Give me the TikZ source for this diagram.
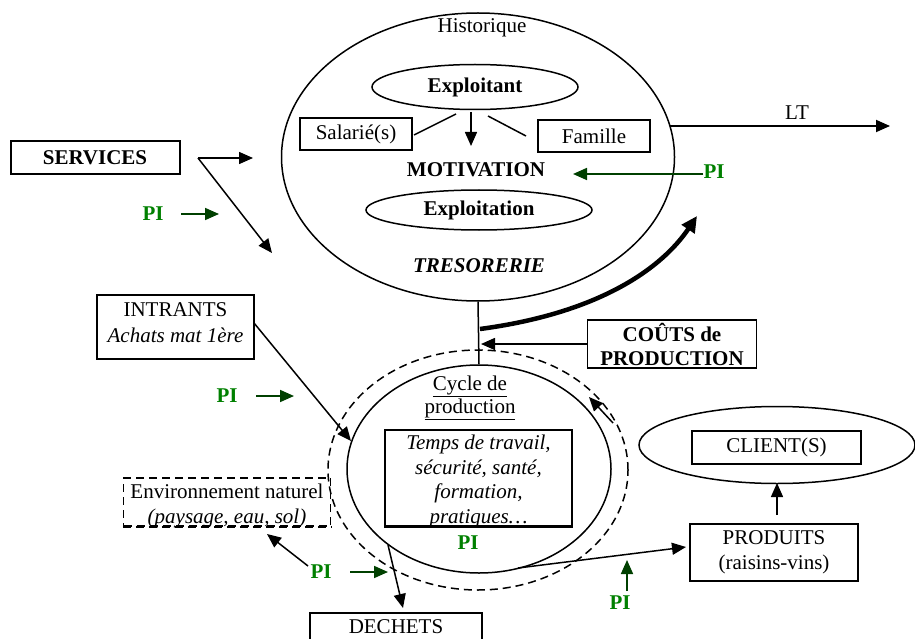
\documentclass[tikz,border=0pt]{standalone}
\usepackage{fontspec}
\setmainfont{Liberation Serif}
\usetikzlibrary{shapes.geometric,arrows.meta}
\definecolor{pigreen}{RGB}{0,128,0}
\definecolor{argreen}{RGB}{0,64,0}
\begin{document}
\begin{tikzpicture}[x=1pt,y=-1pt,
  every node/.style={font=\fontsize{21}{24.5}\selectfont, inner sep=0pt},
  ell/.style={draw, ellipse, line width=1.5pt, inner sep=0pt},
  box/.style={draw, rectangle, line width=1.5pt, inner sep=0pt},
  con/.style={line width=1.5pt, -{Triangle[length=14pt,width=12pt]}},
  plain/.style={line width=1.5pt},
  pilabel/.style={text=pigreen, font=\fontsize{21}{24.5}\selectfont\bfseries},
  piarrow/.style={draw=argreen, line width=1.7pt, -{Triangle[length=14pt,width=12pt]}},
  bfnode/.style={font=\fontsize{21}{24.5}\selectfont\bfseries},
  dsh/.style={dashed, dash pattern=on 8pt off 5pt}
]
\useasboundingbox (0,0) rectangle (915,639);
\clip (0,0) rectangle (915,639);

% ---- big ellipse (exploitation) ----
\node[ell, minimum width=393pt, minimum height=288pt] (big) at (478,157) {};
\node (hist) at (482,28) {Historique};
\node[ell, bfnode, minimum width=206pt, minimum height=45pt] (exploitant) at (475,87) {Exploitant};
\node[box, minimum width=112pt, minimum height=32pt] (sal) at (356,134) {Salarié(s)};
\node[box, minimum width=112pt, minimum height=32pt] (fam) at (594,136) {Famille};
\node[bfnode] (motiv) at (476,170) {MOTIVATION};
\node[ell, bfnode, minimum width=226pt, minimum height=40pt] (exploitation) at (479,210) {Exploitation};
\node[font=\fontsize{21}{24.5}\selectfont\bfseries\itshape] (treso) at (479,266) {TRESORERIE};

\coordinate (la1) at (456,114); \coordinate (la2) at (414,135);
\coordinate (lb1) at (488,116); \coordinate (lb2) at (526,136);
\coordinate (dn1) at (471,112); \coordinate (dn2) at (471,146);
\draw[plain] (la1) -- (la2);
\draw[plain] (lb1) -- (lb2);
\draw[con] (dn1) -- (dn2);

% LT
\coordinate (lt1) at (670,126); \coordinate (lt2) at (890,126);
\draw[con, line width=1.8pt] (lt1) -- (lt2);
\node (lt) at (797,113) {LT};

% PI -> MOTIVATION
\node[pilabel] (pi1) at (714,172) {PI};
\coordinate (m1) at (573,174);
\draw[piarrow] (pi1.west |- m1) -- (m1);

% SERVICES
\node[box, bfnode, line width=2pt, minimum width=169pt, minimum height=33pt] (serv) at (95,158) {SERVICES};
\coordinate (sv) at (198,158); \coordinate (sv1) at (253,158); \coordinate (sv2) at (272,253);
\draw[con] (sv) -- (sv1);
\draw[con] (sv) -- (sv2);
\node[pilabel] (pi2) at (153,214) {PI};
\coordinate (p2a) at (181,214); \coordinate (p2b) at (219,214);
\draw[piarrow] (p2a) -- (p2b);

% cycle de production
\node[ell, minimum width=264pt, minimum height=208pt] (cyc) at (479,469) {};
\node[ell, dsh, minimum width=300pt, minimum height=240pt] (dcyc) at (478,470) {};
\draw[plain] (big.south) -- (cyc.north);
\node[align=center, font=\fontsize{21}{23.5}\selectfont] (cyctxt) at (470,398) {\underline{Cycle de}\\\underline{production}};

% thick arrow
\coordinate (th1) at (480,329); \coordinate (th2) at (697,216);
\draw[line width=4.5pt, -{Triangle[length=16pt,width=15pt]}] (th1) .. controls (600,313) and (662,268) .. (th2);

% COUTS
\node[box, align=center, minimum width=169pt, minimum height=48pt, font=\fontsize{21}{24}\selectfont\bfseries] (couts) at (672,344) {COÛTS de\\PRODUCTION};
\coordinate (c1) at (481,344);
\draw[con] (couts.west) -- (c1);

% INTRANTS
\node[box, minimum width=157pt, minimum height=64pt] (intr) at (175.5,327) {};
\node[align=center, font=\fontsize{21}{26}\selectfont] (intrtxt) at (175.5,323) {INTRANTS\\\textit{Achats mat 1ère}};
\coordinate (i1) at (254,323); \coordinate (i2) at (351,441);
\draw[con] (i1) -- (i2);
\node[pilabel] (pi3) at (227,396) {PI};
\coordinate (p3a) at (256,396); \coordinate (p3b) at (294,396);
\draw[piarrow] (p3a) -- (p3b);

% Temps box
\node[box, minimum width=187pt, minimum height=96pt] (temps) at (478.5,478) {};
\node[align=center, anchor=north, font=\fontsize{21}{24.6}\selectfont\itshape] (tempstxt) at (478.5,435) {Temps de travail,\\sécurité, santé,\\formation,\\pratiques…};
\draw[line width=1.5pt] (temps.south west) -- (temps.south east);
\node[pilabel] (pi4) at (468,543) {PI};

% small arrow on right
\coordinate (r1) at (613,423); \coordinate (r2) at (589,397);
\draw[con] (r1) -- (r2);

% CLIENTS / PRODUITS
\node[ell, minimum width=276pt, minimum height=77pt] (clell) at (777,445) {};
\node[box, minimum width=169pt, minimum height=33pt] (client) at (776.5,447.5) {CLIENT(S)};
\node[box, align=center, minimum width=168pt, minimum height=57pt, font=\fontsize{21}{25}\selectfont] (prod) at (774,552.5) {PRODUITS\\(raisins-vins)};
\coordinate (pc1) at (777,515); \coordinate (pc2) at (777,483);
\draw[con] (pc1) -- (pc2);
\coordinate (cp1) at (518,568); \coordinate (cp2) at (686,547);
\draw[con] (cp1) -- (cp2);
\node[pilabel] (pi5) at (620,603) {PI};
\coordinate (p5a) at (627,591); \coordinate (p5b) at (627,560);
\draw[piarrow] (p5a) -- (p5b);

% Environnement
\node[box, dsh, minimum width=207pt, minimum height=48pt] (env) at (227,502) {};
\node[align=center, font=\fontsize{21}{25}\selectfont] (envtxt) at (227,506) {Environnement naturel\\\textit{(paysage, eau, sol)}};
\draw[line width=1.5pt, dsh] (env.south west) -- (env.south east);
\coordinate (e1) at (308,566); \coordinate (e2) at (267,534);
\draw[con] (e1) -- (e2);
\node[pilabel] (pi6) at (321,572) {PI};
\coordinate (p6a) at (350,572); \coordinate (p6b) at (388,572);
\draw[piarrow] (p6a) -- (p6b);

% DECHETS
\coordinate (d1) at (388,545); \coordinate (d2) at (403,608);
\draw[con] (d1) -- (d2);
\node[box, minimum width=172pt, minimum height=36pt] (dech) at (396,631) {};
\node (dechtxt) at (396,627) {DECHETS};
\end{tikzpicture}
\end{document}
